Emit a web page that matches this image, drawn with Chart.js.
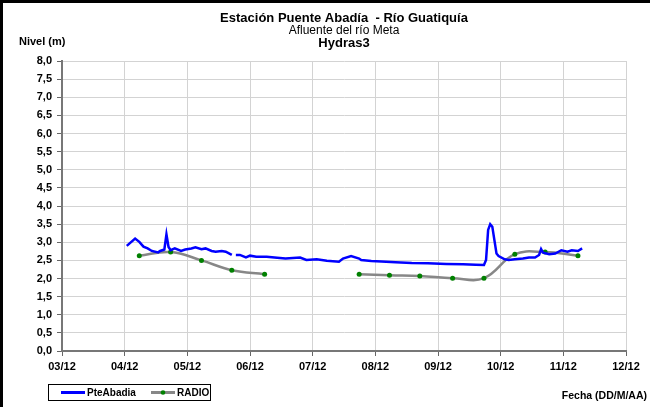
<!DOCTYPE html>
<html>
<head>
<meta charset="utf-8">
<script src="https://cdn.jsdelivr.net/npm/chart.js@4/dist/chart.umd.min.js"></script>
<style>
  html, body { margin: 0; padding: 0; background: #fff; }
  #wrap { width: 650px; height: 407px; }
</style>
</head>
<body>
<div id="wrap"><canvas id="nivel" width="650" height="407"></canvas></div>
<script>
// Etiquetas de los ejes
const mesesEje = ['03/12', '04/12', '05/12', '06/12', '07/12', '08/12', '09/12', '10/12', '11/12', '12/12'];
const nivelesEje = ['0,0', '0,5', '1,0', '1,5', '2,0', '2,5', '3,0', '3,5', '4,0', '4,5', '5,0', '5,5', '6,0', '6,5', '7,0', '7,5', '8,0'];

// Serie PteAbadia (sensor automático) - null = sin dato
const pteFechas = [
  '2012-04-02', '2012-04-06', '2012-04-08', '2012-04-10', '2012-04-12', '2012-04-14', '2012-04-17', '2012-04-18',
  '2012-04-20', '2012-04-21', '2012-04-22', '2012-04-23', '2012-04-25', '2012-04-28', '2012-04-30', '2012-05-03',
  '2012-05-05', '2012-05-08', '2012-05-10', '2012-05-13', '2012-05-15', '2012-05-18', '2012-05-20', '2012-05-23',
  '2012-05-24', '2012-05-25', '2012-05-27', '2012-05-30', '2012-06-01', '2012-06-04', '2012-06-09', '2012-06-14',
  '2012-06-18', '2012-06-25', '2012-06-28', '2012-07-03', '2012-07-08', '2012-07-14', '2012-07-16', '2012-07-20',
  '2012-07-24', '2012-07-25', '2012-07-30', '2012-08-04', '2012-08-11', '2012-08-19', '2012-08-27', '2012-09-05',
  '2012-09-13', '2012-09-19', '2012-09-23', '2012-09-24', '2012-09-25', '2012-09-26', '2012-09-27', '2012-09-28',
  '2012-09-29', '2012-09-30', '2012-10-03', '2012-10-05', '2012-10-08', '2012-10-12', '2012-10-15', '2012-10-18',
  '2012-10-20', '2012-10-21', '2012-10-22', '2012-10-25', '2012-10-28', '2012-10-31', '2012-11-03', '2012-11-05',
  '2012-11-08', '2012-11-10'
];
const pteNivel = [
  2.90, 3.10, 3.01, 2.88, 2.83, 2.76, 2.72, 2.76,
  2.80, 3.22, 2.87, 2.78, 2.83, 2.76, 2.80, 2.83,
  2.86, 2.81, 2.83, 2.76, 2.74, 2.76, 2.74, 2.65,
  null, 2.65, 2.65, 2.58, 2.63, 2.60, 2.60, 2.57,
  2.55, 2.58, 2.51, 2.53, 2.49, 2.46, 2.55, 2.62,
  2.55, 2.51, 2.48, 2.47, 2.45, 2.43, 2.42, 2.40,
  2.39, 2.38, 2.37, 2.51, 3.34, 3.50, 3.43, 3.06,
  2.69, 2.62, 2.53, 2.51, 2.53, 2.55, 2.58, 2.58,
  2.65, 2.81, 2.71, 2.67, 2.69, 2.78, 2.74, 2.78,
  2.76, 2.83
];

// Serie RADIO (lecturas reportadas dos veces al mes)
const radioFechas = [
  '2012-04-08', '2012-04-23', '2012-05-08', '2012-05-23', '2012-06-08', '2012-06-23', '2012-07-08', '2012-07-24',
  '2012-08-08', '2012-08-23', '2012-09-08', '2012-09-23', '2012-10-08', '2012-10-23', '2012-11-08'
];
const radioNivel = [2.63, 2.73, 2.50, 2.23, 2.12, null, null, 2.12, 2.09, 2.07, 2.01, 2.01, 2.67, 2.73, 2.63];

// fecha -> posición en meses (03/12 = 3, 04/12 = 4, ...)
function posMes(fecha) {
  const [a, m, d] = fecha.split('-').map(Number);
  const diasMes = new Date(a, m, 0).getDate();
  return m + (d - 1) / diasMes;
}

function puntos(fechas, valores) {
  return fechas.map((f, i) => ({ x: posMes(f), y: valores[i] }));
}

const fuente = 'Liberation Sans, Arial, sans-serif';

// Títulos, rótulos de ejes, leyenda y marco
const decoracion = {
  id: 'decoracion',
  beforeDraw(chart) {
    const ctx = chart.ctx;
    ctx.save();
    ctx.fillStyle = '#fff';
    ctx.fillRect(0, 0, chart.width, chart.height);
    ctx.restore();
  },
  afterDraw(chart) {
    const ctx = chart.ctx;
    const area = chart.chartArea;
    const cx = (area.left + area.right) / 2;
    ctx.save();
    ctx.fillStyle = '#000';
    ctx.textAlign = 'center';
    ctx.textBaseline = 'middle';
    ctx.font = 'bold 13px ' + fuente;
    ctx.fillText('Estación Puente Abadía  - Río Guatiquía', cx, 18);
    ctx.font = '12px ' + fuente;
    ctx.fillText('Afluente del río Meta', cx, 31);
    ctx.font = 'bold 13px ' + fuente;
    ctx.fillText('Hydras3', cx, 43);

    ctx.textAlign = 'left';
    ctx.font = 'bold 11px ' + fuente;
    ctx.fillText('Nivel (m)', 19, 42);

    ctx.textAlign = 'right';
    ctx.font = 'bold 10.5px ' + fuente;
    ctx.fillText('Fecha (DD/M/AA)', 647, 396);

    // leyenda
    const ds = chart.data.datasets;
    ctx.strokeStyle = '#000';
    ctx.lineWidth = 1;
    ctx.strokeRect(48.5, 384.5, 162, 16);
    ctx.textAlign = 'left';
    ctx.font = 'bold 10px ' + fuente;
    ctx.lineWidth = 3;
    ctx.strokeStyle = ds[0].borderColor;
    ctx.beginPath(); ctx.moveTo(61, 392.5); ctx.lineTo(85, 392.5); ctx.stroke();
    ctx.fillText(ds[0].label, 87, 393);
    ctx.strokeStyle = ds[1].borderColor;
    ctx.beginPath(); ctx.moveTo(151, 392.5); ctx.lineTo(175, 392.5); ctx.stroke();
    ctx.fillStyle = ds[1].pointBackgroundColor;
    ctx.beginPath(); ctx.arc(163, 392.5, 2.3, 0, Math.PI * 2); ctx.fill();
    ctx.fillStyle = '#000';
    ctx.fillText(ds[1].label, 177, 393);

    // marco superior e izquierdo
    ctx.fillRect(0, 0, chart.width, 3);
    ctx.fillRect(0, 0, 3, chart.height);
    ctx.restore();
  }
};

new Chart(document.getElementById('nivel'), {
  type: 'line',
  data: {
    datasets: [
      {
        label: 'PteAbadia',
        data: puntos(pteFechas, pteNivel),
        borderColor: '#0000ff',
        borderWidth: 2.5,
        pointRadius: 0,
        tension: 0,
        spanGaps: false
      },
      {
        label: 'RADIO',
        data: puntos(radioFechas, radioNivel),
        borderColor: '#878787',
        borderWidth: 2.5,
        pointRadius: 2.5,
        pointBorderWidth: 0,
        pointBackgroundColor: '#008000',
        tension: 0.4,
        spanGaps: false
      }
    ]
  },
  options: {
    responsive: false,
    animation: false,
    layout: { padding: { top: 61, right: 24, bottom: 36, left: 0 } },
    plugins: {
      legend: { display: false },
      title: { display: false },
      tooltip: { enabled: false }
    },
    scales: {
      x: {
        type: 'linear',
        min: 3,
        max: 12,
        ticks: {
          stepSize: 1,
          autoSkip: false,
          maxRotation: 0,
          padding: 4,
          color: '#000',
          font: { family: fuente, size: 11, weight: 'bold' },
          callback: (v) => mesesEje[v - 3]
        },
        grid: { color: '#d3d3d3', lineWidth: 1, tickLength: 5, tickColor: '#666' },
        border: { color: '#777', width: 2 },
        afterFit: (s) => { s.height = 20; }
      },
      y: {
        min: 0,
        max: 8,
        ticks: {
          stepSize: 0.5,
          padding: 5,
          color: '#000',
          font: { family: fuente, size: 11, weight: 'bold' },
          callback: (v) => nivelesEje[Math.round(v * 2)]
        },
        grid: { color: '#d3d3d3', lineWidth: 1, tickLength: 5, tickColor: '#666' },
        border: { color: '#777', width: 2 },
        afterFit: (s) => { s.width = 62; }
      }
    }
  },
  plugins: [decoracion]
});
</script>
</body>
</html>
